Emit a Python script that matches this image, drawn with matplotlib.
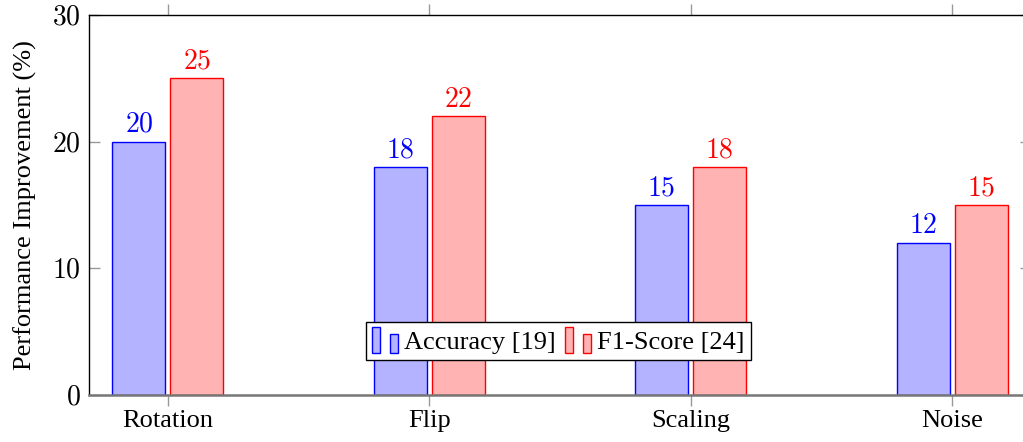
import matplotlib.pyplot as plt
import numpy as np
from matplotlib.patches import Rectangle
from matplotlib.legend_handler import HandlerBase

plt.rcParams['font.family'] = ['Liberation Serif', 'DejaVu Serif']
plt.rcParams['mathtext.fontset'] = 'cm'

# 数据
categories = ["Rotation", "Flip", "Scaling", "Noise"]
accuracy = [20, 18, 15, 12]
f1_score = [25, 22, 18, 15]
yticks = [0, 10, 20, 30]

blue_fill = "#b3b3ff"
red_fill = "#ffb3b3"


class TwoBarHandler(HandlerBase):
    # pgfplots 风格的图例：两个小竖条
    def create_artists(self, legend, orig_handle, xdescent, ydescent,
                       width, height, fontsize, trans):
        fc = orig_handle.get_facecolor()
        ec = orig_handle.get_edgecolor()
        w = width * 0.3
        r1 = Rectangle((-xdescent + width * 0.0, -ydescent - height * 0.1), w, height * 1.15,
                       facecolor=fc, edgecolor=ec, lw=1, transform=trans)
        r2 = Rectangle((-xdescent + width * 0.68, -ydescent - height * 0.1), w, height * 0.85,
                       facecolor=fc, edgecolor=ec, lw=1, transform=trans)
        return [r1, r2]


fig = plt.figure(figsize=(10.23, 4.42), dpi=100)
ax = fig.add_axes([89 / 1023, 47 / 442, (1031 - 89) / 1023, 380 / 442])

x = np.arange(len(categories))
bw = 0.203
off = 0.111
b1 = ax.bar(x - off, accuracy, bw, color=blue_fill, edgecolor="blue", lw=1)
b2 = ax.bar(x + off, f1_score, bw, color=red_fill, edgecolor="red", lw=1)

for i in range(len(categories)):
    ax.text(x[i] - off, accuracy[i] + 0.3, '$%d$' % accuracy[i], color="blue",
            ha="center", va="bottom", fontsize=20)
    ax.text(x[i] + off, f1_score[i] + 0.3, '$%d$' % f1_score[i], color="red",
            ha="center", va="bottom", fontsize=20)

ax.set_xlim(-0.302, 3.302)
ax.set_ylim(0, 30)
ax.set_xticks(x)
ax.set_xticklabels(categories, fontsize=19)
ax.set_yticks(yticks)
ax.set_yticklabels(['$%d$' % v for v in yticks], fontsize=20)
ax.set_ylabel("Performance Improvement (%)", fontsize=19, labelpad=11)

ax.tick_params(axis='x', direction='out', length=8, color='#999999',
               top=True, width=1, pad=3)
ax.tick_params(axis='y', direction='in', length=8, color='#999999',
               right=True, width=1, pad=6)
for s in ['top', 'left', 'right']:
    ax.spines[s].set_linewidth(1)
ax.spines['bottom'].set_color('#777777')
ax.spines['bottom'].set_linewidth(1.8)

ax.legend(handles=[b1.patches[0], b2.patches[0]],
          labels=["Accuracy [19]", "F1-Score [24]"],
          handler_map={Rectangle: TwoBarHandler()},
          loc='center', bbox_to_anchor=(0.498, 0.142), fontsize=19, ncol=2,
          frameon=True, fancybox=False, edgecolor='black', framealpha=1,
          handlelength=1.0, handleheight=0.9, handletextpad=0.2, columnspacing=0.35,
          borderpad=0.25, borderaxespad=0)
ax.get_legend().get_frame().set_linewidth(1)

fig.savefig("out.png", dpi=100)
